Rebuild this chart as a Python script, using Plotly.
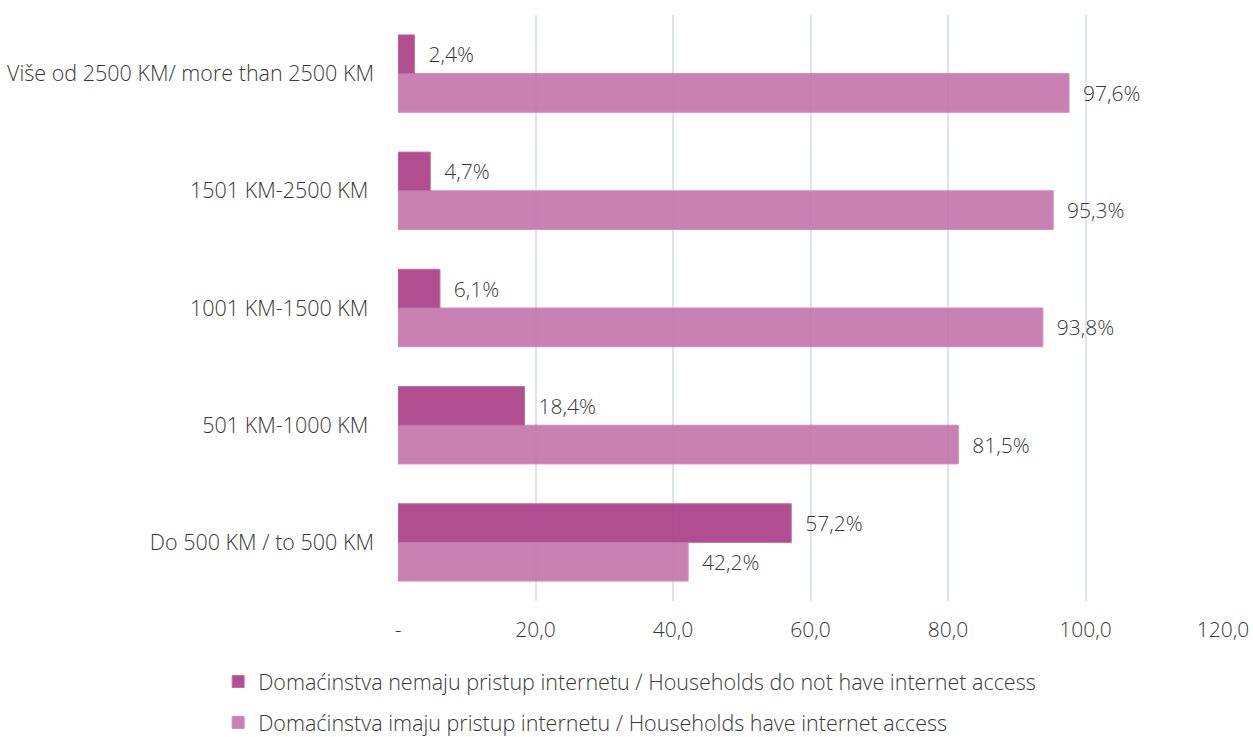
import plotly.graph_objects as go

categories = [
    "Do 500 KM / to 500 KM",
    "501 KM-1000 KM\u00a0",
    "1001 KM-1500 KM\u00a0",
    "1501 KM-2500 KM\u00a0",
    "Više od 2500 KM/ more than 2500 KM",
]
no_access = [57.2, 18.4, 6.1, 4.7, 2.4]
has_access = [42.2, 81.5, 93.8, 95.3, 97.6]
series_names = [
    "Domaćinstva nemaju pristup internetu / Households do not have internet access",
    "Domaćinstva imaju pristup internetu / Households have internet access",
]
tick_vals = [0, 20, 40, 60, 80, 100, 120]
tick_text = ["-", "20,0", "40,0", "60,0", "80,0", "100,0", "120,0"]

FONT = "Open Sans"
TXT = "#383838"


def fmt(v):
    return "  " + f"{v:.1f}".replace(".", ",") + "%"


fig = go.Figure()
fig.add_trace(go.Bar(
    y=categories, x=has_access, orientation="h", name=series_names[1],
    legendgroup="b", legendrank=2,
    marker=dict(color="rgba(196,118,173,0.92)", line=dict(color="#D08CBC", width=1)),
    text=[fmt(v) for v in has_access], textposition="outside", cliponaxis=False,
    textfont=dict(family=FONT, size=21, color=TXT, weight=300),
))
fig.add_trace(go.Bar(
    y=categories, x=no_access, orientation="h", name=series_names[0],
    legendgroup="a", legendrank=1,
    marker=dict(color="rgba(172,69,137,0.95)", line=dict(color="#C070A8", width=1)),
    text=[fmt(v) for v in no_access], textposition="outside", cliponaxis=False,
    textfont=dict(family=FONT, size=21, color=TXT, weight=300),
))

fig.update_layout(
    width=1253, height=737,
    margin=dict(l=398, r=30, t=15, b=136),
    barmode="group", bargap=0.34, bargroupgap=0,
    paper_bgcolor="white", plot_bgcolor="white",
    font=dict(family=FONT, size=21, color=TXT, weight=300),
    showlegend=True,
    legend=dict(
        traceorder="grouped", orientation="v",
        xref="paper", yref="container",
        x=-0.218, xanchor="left", y=0.1031, yanchor="top",
        tracegroupgap=10,
        font=dict(family=FONT, size=21.5, color=TXT, weight=300),
        itemclick=False, itemdoubleclick=False,
    ),
)
fig.update_xaxes(
    range=[0, 120], tickvals=tick_vals, ticktext=tick_text,
    showgrid=True, gridcolor="#DFE3EA", gridwidth=1.5, zeroline=False,
    showline=False, ticks="", ticklabelstandoff=14, automargin=False,
    tickfont=dict(family=FONT, size=21, color=TXT, weight=300),
    fixedrange=True,
)
fig.update_yaxes(
    showgrid=False, zeroline=False, showline=False, ticks="",
    ticklabelstandoff=23, automargin=False,
    tickfont=dict(family=FONT, size=21.5, color=TXT, weight=300),
    fixedrange=True,
)

fig.write_html(
    "out.html",
    config={"displayModeBar": False},
    post_script="document.body.style.margin='0';document.body.style.overflow='hidden';",
)
